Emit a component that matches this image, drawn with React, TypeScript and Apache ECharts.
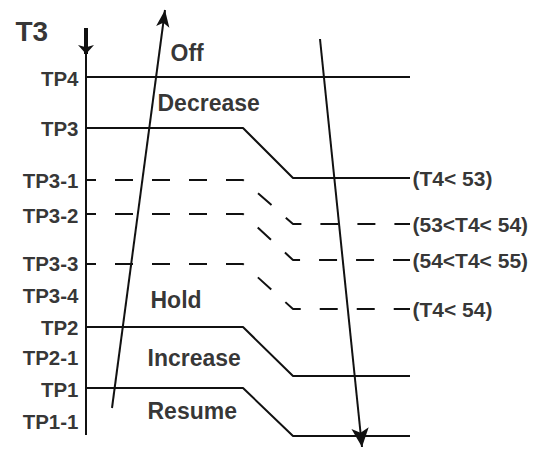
import React, { useEffect, useRef } from "react";
import * as echarts from "echarts";

// Diagram scale: x = time (0..537), y = T3 position (0 top .. 450 bottom)
const timePoints = [87, 243, 293, 410]; // start, ramp start, ramp end, end

const thresholdNames = ["TP4", "TP3", "TP3-1", "TP3-2", "TP3-3", "TP2", "TP1"];
const thresholdStart = [77, 128, 180, 214, 264, 327, 388];
const thresholdEnd = [77, 178, 224, 260, 309, 376, 436];
const thresholdDashed = [false, false, true, true, true, false, false];

const levelLabels = ["TP4", "TP3", "TP3-1", "TP3-2", "TP3-3", "TP3-4", "TP2", "TP2-1", "TP1", "TP1-1"];
const levelLabelY = [78, 128, 180, 215, 263, 295, 327, 357, 389, 421];

const conditionLabels = ["(T4< 53)", "(53<T4< 54)", "(54<T4< 55)", "(T4< 54)"];
const conditionY = [178, 224, 260, 309];

const regionLabels = ["Off", "Decrease", "Hold", "Increase", "Resume"];
const regionX = [170, 157, 150, 147, 147];
const regionY = [53, 103, 300, 358, 411];

const axisLine = [[86, 435], [86, 28]];
const axisHead = [[86, 28], [86, 54]];
const arrowUp = [[112, 408], [165, 10]];
const arrowDown = [[320, 39], [362, 447]];

const titleLabel = "T3";
const titlePos = [15, 31];

const FONT = "'Liberation Sans', Arial, Helvetica, sans-serif";
const INK = "#111111";

export default function App() {
  const ref = useRef<HTMLDivElement>(null);
  useEffect(() => {
    if (!ref.current) return;
    const chart = echarts.init(ref.current, null, { renderer: "svg" });

    const lineSeries = thresholdNames.map((name, i) => {
      const pts = thresholdDashed[i] || thresholdStart[i] !== thresholdEnd[i]
        ? [
            [timePoints[0], thresholdStart[i]],
            [timePoints[1], thresholdStart[i]],
            [timePoints[2], thresholdEnd[i]],
            [timePoints[3], thresholdEnd[i]],
          ]
        : [
            [timePoints[0], thresholdStart[i]],
            [timePoints[3], thresholdEnd[i]],
          ];
      return {
        type: "line",
        name,
        data: pts,
        symbol: "none",
        silent: true,
        lineStyle: {
          color: INK,
          width: 2,
          type: thresholdDashed[i] ? [18, 19] : "solid",
          dashOffset: thresholdDashed[i] ? 9 : 0,
        },
        z: 2,
      };
    });

    const arrowLine = (pts: number[][], headSize: number[], width: number, head = true) => ({
      type: "line",
      data: [],
      silent: true,
      markLine: {
        silent: true,
        animation: false,
        symbol: ["none", head ? "arrow" : "none"],
        symbolSize: headSize,
        label: { show: false },
        lineStyle: { color: INK, width, type: "solid" },
        emphasis: { disabled: true },
        data: [[{ coord: pts[0] }, { coord: pts[1] }]],
      },
    });

    const textSeries = (
      items: { name: string; value: number[] }[],
      position: string,
      fontSize: number
    ) => ({
      type: "scatter",
      silent: true,
      symbolSize: 1,
      itemStyle: { color: "rgba(0,0,0,0)" },
      label: {
        show: true,
        position,
        distance: 0,
        formatter: "{b}",
        fontFamily: FONT,
        fontWeight: "bold",
        fontSize,
        color: "#000000",
      },
      data: items,
      z: 5,
    });

    chart.setOption({
      animation: false,
      backgroundColor: "#ffffff",
      grid: { left: 0, right: 0, top: 0, bottom: 0 },
      xAxis: { type: "value", min: 0, max: 537, show: false },
      yAxis: { type: "value", min: 0, max: 450, inverse: true, show: false },
      series: [
        ...lineSeries,
        arrowLine(axisLine, [0, 0], 2, false),
        arrowLine(axisHead, [12, 9], 4),
        arrowLine(arrowUp, [10, 17], 2),
        arrowLine(arrowDown, [13, 19], 2),
        textSeries(
          levelLabels.map((n, i) => ({ name: n, value: [79, levelLabelY[i]] })),
          "left",
          20.5
        ),
        textSeries(
          conditionLabels.map((n, i) => ({ name: n, value: [412, conditionY[i]] })),
          "right",
          21
        ),
        textSeries(
          regionLabels.map((n, i) => ({ name: n, value: [regionX[i], regionY[i]] })),
          "right",
          23
        ),
        textSeries([{ name: titleLabel, value: titlePos }], "right", 28),
      ],
    });
    return () => chart.dispose();
  }, []);
  return (
    <div
      ref={ref}
      style={{ position: "absolute", left: 0, top: 0, width: 537, height: 450 }}
    />
  );
}
